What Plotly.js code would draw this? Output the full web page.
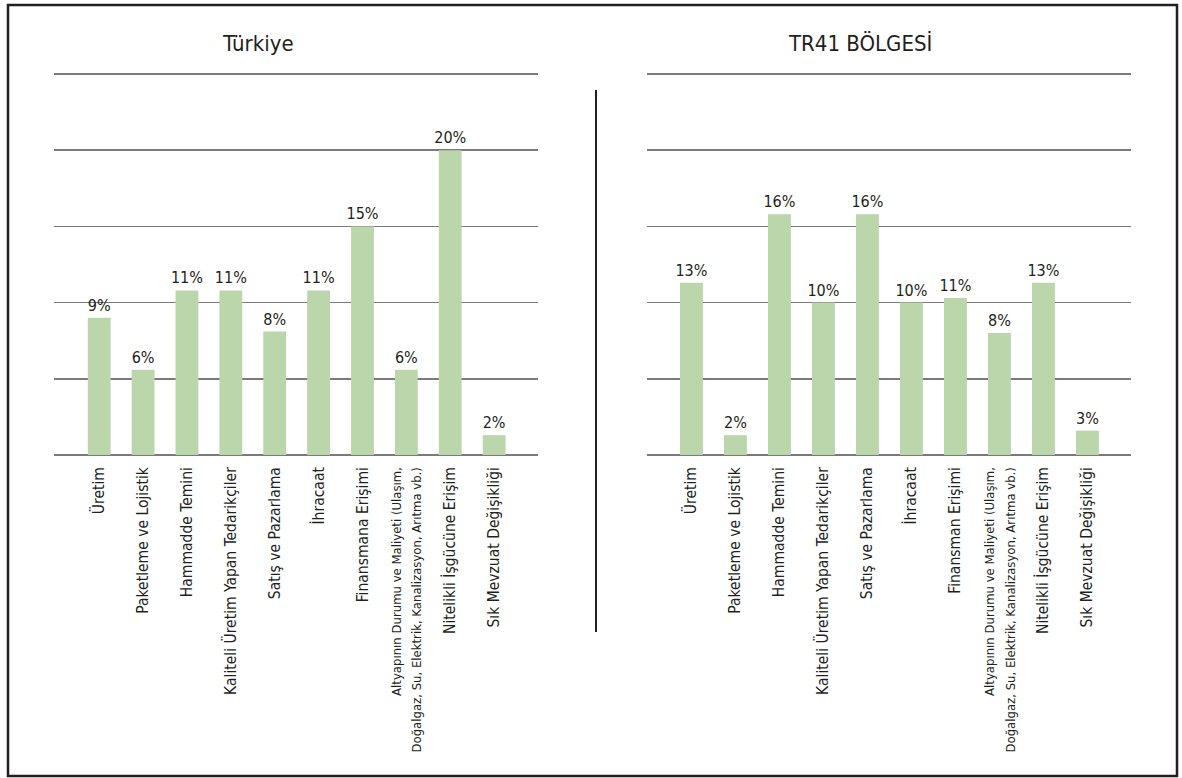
<!DOCTYPE html>
<html>
<head>
<meta charset="utf-8">
<script src="https://cdn.plot.ly/plotly-3.0.1.min.js"></script>
<style>html,body{margin:0;padding:0;background:#fff;}#chart{width:1182px;height:778px;}</style>
</head>
<body>
<div id="chart"></div>
<script>
// Categories (tick labels)
const categories = [
  "Üretim",
  "Paketleme ve Lojistik",
  "Hammadde Temini",
  "Kaliteli Üretim Yapan Tedarikçiler",
  "Satış ve Pazarlama",
  "İhracaat",
  "Finansmana Erişimi",
  "Altyapının Durumu ve Maliyeti (Ulaşım,<br>Doğalgaz, Su, Elektrik, Kanalizasyon, Arıtma vb.)",
  "Nitelikli İşgücüne Erişim",
  "Sık Mevzuat Değişikliği"
];
const categoriesTR41 = [
  "Üretim",
  "Paketleme ve Lojistik",
  "Hammadde Temini",
  "Kaliteli Üretim Yapan Tedarikçiler",
  "Satış ve Pazarlama",
  "İhracaat",
  "Finansman Erişimi",
  "Altyapının Durumu ve Maliyeti (Ulaşım,<br>Doğalgaz, Su, Elektrik, Kanalizasyon, Arıtma vb.)",
  "Nitelikli İşgücüne Erişim",
  "Sık Mevzuat Değişikliği"
];
// Bar heights (percent)
const turkiyeValues = [9.0, 5.6, 10.8, 10.8, 8.1, 10.8, 15.0, 5.6, 20.0, 1.3];
const tr41Values    = [11.3, 1.3, 15.8, 10.0, 15.8, 10.0, 10.3, 8.0, 11.3, 1.6];
// Printed data labels
const turkiyeLabels = ["9%", "6%", "11%", "11%", "8%", "11%", "15%", "6%", "20%", "2%"];
const tr41Labels    = ["13%", "2%", "16%", "10%", "16%", "10%", "11%", "8%", "13%", "3%"];
const titles = ["Türkiye", "TR41 BÖLGESİ"];

const FONT = "'Liberation Sans Narrow', 'DejaVu Sans Condensed', 'Arial Narrow', sans-serif";
const BAR = "#bbd6aa";
const TXT = "#231f20";
const GRID = "#7a7a7a";
const W = 1182, H = 778;

function tickText(list) {
  return list.map(s => s.indexOf("<br>") >= 0
    ? s.split("<br>").map(p => '<span style="font-size:13px">' + p + '</span>').join("<br>")
    : s);
}
const idx = categories.map((_, i) => i);

const traces = [
  {type: "bar", x: idx, y: turkiyeValues, text: turkiyeLabels, textposition: "outside",
   constraintext: "none", cliponaxis: false, marker: {color: BAR}, width: 0.52, xaxis: "x", yaxis: "y",
   textfont: {family: FONT, size: 16, color: TXT}, hoverinfo: "skip"},
  {type: "bar", x: idx, y: tr41Values, text: tr41Labels, textposition: "outside",
   constraintext: "none", cliponaxis: false, marker: {color: BAR}, width: 0.52, xaxis: "x2", yaxis: "y2",
   textfont: {family: FONT, size: 16, color: TXT}, hoverinfo: "skip"}
];

// 0..25 spans 455px..74px; range extended to 25.1 so the top grid line is drawn
const pxPerUnit = (455 - 74) / 25;
const yDom = [1 - 455 / H, 1 - (455 - 25.1 * pxPerUnit) / H];
const xcommon = {
  tickmode: "array", tickvals: idx, tickangle: -90, ticks: "", showgrid: false,
  zeroline: false, showline: false, fixedrange: true, ticklabelstandoff: 8,
  tickfont: {family: FONT, size: 15.5, color: TXT}
};
const ycommon = {
  range: [0, 25.1], dtick: 5, tick0: 0, showticklabels: false, ticks: "",
  showgrid: true, gridcolor: GRID, gridwidth: 1.5,
  zeroline: true, zerolinecolor: GRID, zerolinewidth: 1.5, showline: false,
  fixedrange: true
};

const layout = {
  width: W, height: H,
  margin: {l: 0, r: 0, t: 0, b: 0},
  paper_bgcolor: "#ffffff", plot_bgcolor: "rgba(0,0,0,0)",
  showlegend: false,
  font: {family: FONT, color: TXT},
  xaxis: Object.assign({}, xcommon, {domain: [54 / W, 538 / W], range: [-1.03, 10.0], ticktext: tickText(categories), anchor: "y"}),
  yaxis: Object.assign({}, ycommon, {domain: yDom, anchor: "x"}),
  xaxis2: Object.assign({}, xcommon, {domain: [647 / W, 1131 / W], range: [-1.01, 9.99], ticktext: tickText(categoriesTR41), anchor: "y2"}),
  yaxis2: Object.assign({}, ycommon, {domain: yDom, anchor: "x2"}),
  annotations: [
    {text: titles[0], xref: "paper", yref: "paper", x: 258 / W, y: 1 - 43 / H,
     xanchor: "center", yanchor: "middle", showarrow: false, font: {family: FONT, size: 22, color: TXT}},
    {text: titles[1], xref: "paper", yref: "paper", x: 860 / W, y: 1 - 43 / H,
     xanchor: "center", yanchor: "middle", showarrow: false, font: {family: FONT, size: 22, color: TXT}}
  ],
  shapes: [
    {type: "rect", xref: "paper", yref: "paper", x0: 8 / W, x1: 1177 / W, y0: 1 - 776 / H, y1: 1 - 5 / H,
     line: {color: "#231f20", width: 2.5}, fillcolor: "rgba(0,0,0,0)"},
    {type: "line", xref: "paper", yref: "paper", x0: 596 / W, x1: 596 / W, y0: 1 - 632 / H, y1: 1 - 90 / H,
     line: {color: "#231f20", width: 2}}
  ]
};

Plotly.newPlot("chart", traces, layout, {displayModeBar: false, staticPlot: true});
</script>
</body>
</html>
